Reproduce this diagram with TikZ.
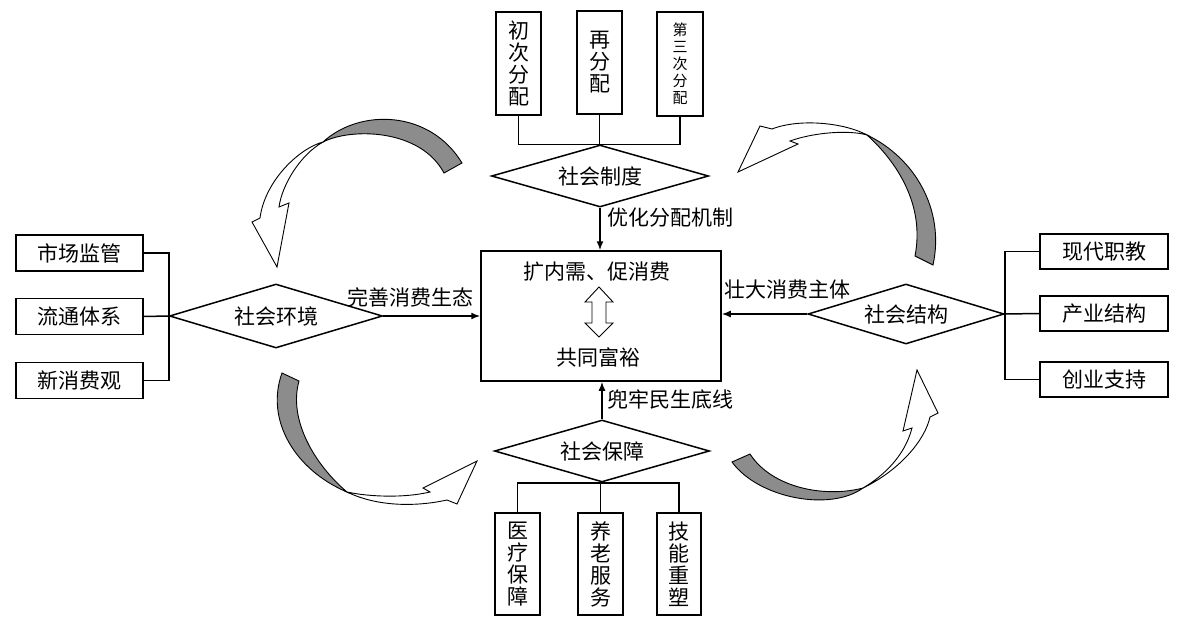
\documentclass[tikz,border=0pt]{standalone}
\usepackage{fontspec}
\setmainfont{Noto Sans CJK SC}
\usetikzlibrary{shapes.geometric,arrows.meta}
\definecolor{bandgray}{RGB}{140,140,140}
\begin{document}
\begin{tikzpicture}[x=1pt,y=-1pt,
  txt/.style={font=\fontsize{21}{22}\selectfont},
  hbox/.style={draw, line width=1.5pt, inner sep=0pt, txt},
  vbox/.style={draw, line width=1.5pt, inner sep=0pt, align=center, txt},
  dia/.style={draw, diamond, aspect=3.5, inner sep=0pt, line width=1.5pt, txt},
  conn/.style={line width=1.5pt},
  arr/.style={line width=1.5pt, -{Latex[length=9pt,width=7pt]}},
  lbl/.style={inner sep=0pt, txt},
  band/.style={draw, line width=0.9pt, line join=miter},
]
\path[use as bounding box, fill=white] (0,0) rectangle (1179,624);

% central box
\node[draw, line width=1.5pt, minimum width=240, minimum height=130, inner sep=0pt] (cbox) at (601,316) {};
\node[lbl] (c1) at (597,272) {扩内需、促消费};
\node[lbl] (c2) at (598,357) {共同富裕};
\draw[line width=0.9pt, fill=white] (599,287) -- (613,302) -- (606,302) -- (606,323) -- (613,323) -- (599,337)
  -- (585,323) -- (592,323) -- (592,302) -- (585,302) -- cycle;

% diamonds
\node[dia, minimum width=217, minimum height=62] (zt) at (600,176) {社会制度};
\node[dia, minimum width=213, minimum height=64] (zl) at (276,316) {社会环境};
\node[dia, minimum width=196, minimum height=60] (zr) at (906,314) {社会结构};
\node[dia, minimum width=215, minimum height=62] (zb) at (602,451) {社会保障};

% top boxes
\node[vbox, minimum width=45, minimum height=103] (t1) at (518.5,63.5) {初\\次\\分\\配};
\node[vbox, minimum width=45, minimum height=103] (t2) at (599.5,62.5) {再\\分\\配};
\node[vbox, minimum width=46, minimum height=104, font=\fontsize{15}{17}\selectfont] (t3) at (680,64) {第\\三\\次\\分\\配};
% bottom boxes
\node[vbox, minimum width=45, minimum height=102] (b1) at (517.5,564) {医\\疗\\保\\障};
\node[vbox, minimum width=45, minimum height=102] (b2) at (600.5,564) {养\\老\\服\\务};
\node[vbox, minimum width=44, minimum height=102] (b3) at (679,564) {技\\能\\重\\塑};
% left boxes
\node[hbox, minimum width=127, minimum height=36] (l1) at (79.5,253) {市场监管};
\node[hbox, minimum width=127, minimum height=36] (l2) at (79.5,316.5) {流通体系};
\node[hbox, minimum width=127, minimum height=36] (l3) at (79.5,380.5) {新消费观};
% right boxes
\node[hbox, minimum width=128, minimum height=35] (r1) at (1104,251.5) {现代职教};
\node[hbox, minimum width=128, minimum height=35] (r2) at (1104,313.5) {产业结构};
\node[hbox, minimum width=128, minimum height=35] (r3) at (1104,379.5) {创业支持};

% tree connectors
\draw[conn] (t1.south) |- (zt.north) -| (t3.south);
\draw[conn] (t2.south) -- (t2.south |- zt.north);
\draw[conn] (b1.north) |- (zb.south) -| (b3.north);
\draw[conn] (b2.north |- zb.south) -- (b2.north);
\draw[conn] (l1.east) -| (zl.west) |- (l3.east);
\draw[conn] (l2.east) -- (zl.west);
\draw[conn] (r1.west) -| (zr.east) |- (r3.west);
\draw[conn] (r2.west) -- (zr.east);

% arrows to centre
\draw[arr] (zt.south) -- (zt.south |- cbox.north);
\draw[arr] (zl.east) -- (zl.east -| cbox.west);
\draw[arr] (zr.west) -- (zr.west -| cbox.east);
\draw[arr] (zb.north) -- (zb.north |- cbox.south);

% arrow labels
\node[lbl, anchor=west] (a1) at (607,218) {优化分配机制};
\node[lbl, anchor=west] (a2) at (347,297) {完善消费生态};
\node[lbl, anchor=west] (a3) at (724,290) {壮大消费主体};
\node[lbl, anchor=west] (a4) at (607,400) {兜牢民生底线};

% curved arrows: top-left
\draw[band, fill=bandgray] (462,163) .. controls (430,110) and (360,108) .. (323,142)
  .. controls (350,128) and (420,128) .. (444,173) -- cycle;
\draw[band, fill=white] (323,142) .. controls (300,148) and (265,180) .. (260,218) -- (252,222) -- (277,267)
  -- (289,203) -- (279,207) .. controls (282,185) and (300,155) .. (323,142) -- cycle;
% top-right
\draw[band, fill=bandgray] (933,265) .. controls (945,210) and (915,158) .. (867,135)
  .. controls (897,162) and (925,205) .. (915,256) -- cycle;
\draw[band, fill=white] (867,135) .. controls (845,123) and (800,118) .. (772,129) -- (760,126) -- (738,172)
  -- (798,144) -- (790,141) .. controls (815,132) and (850,130) .. (867,135) -- cycle;
% bottom-left
\draw[band, fill=bandgray] (282,373) .. controls (265,420) and (295,470) .. (347,492)
  .. controls (315,465) and (288,420) .. (299,381) -- cycle;
\draw[band, fill=white] (347,492) .. controls (380,508) and (420,506) .. (447,500) -- (457,504) -- (477,461)
  -- (423,488) -- (430,492) .. controls (405,498) and (370,497) .. (347,492) -- cycle;
% bottom-right
\draw[band, fill=bandgray] (732,462) .. controls (758,498) and (830,512) .. (863,488)
  .. controls (825,498) and (772,488) .. (750,454) -- cycle;
\draw[band, fill=white] (863,488) .. controls (900,470) and (925,440) .. (930,417) -- (938,413) -- (917,370)
  -- (903,431) -- (912,428) .. controls (905,455) and (885,475) .. (863,488) -- cycle;
\end{tikzpicture}
\end{document}
